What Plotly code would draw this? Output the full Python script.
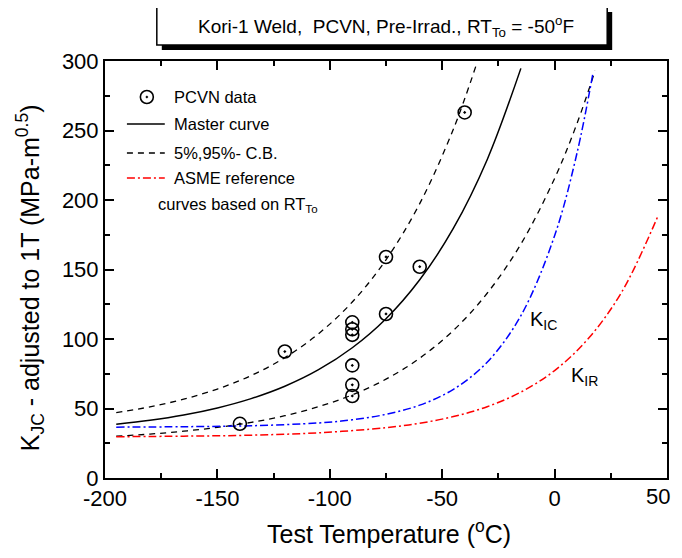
import plotly.graph_objects as go

# PCVN test data
temp_data = [-140, -120, -90, -90, -90, -90, -90, -90, -75, -75, -60, -40]
kjc_data = [39, 91, 112, 107, 103, 81, 67, 59, 159, 118, 152, 263]

# master curve and 5%/95% bounds
mc_temp = [-195, -180, -165, -150, -135, -120, -105, -90, -75, -60, -45, -30, -15]
mc_k = [38.7, 41.5, 45.3, 50.4, 57.1, 66.0, 77.9, 93.7, 114.6, 142.6, 179.7, 229.0, 294.7]

up_temp = [-195, -180, -165, -150, -135, -120, -105, -90, -75, -60, -45, -35]
up_k = [47.0, 51.2, 56.7, 64.0, 73.7, 86.6, 103.8, 126.6, 157.0, 197.4, 251.1, 296.4]

lo_temp = [-195, -180, -165, -150, -135, -120, -105, -90, -75, -60, -45, -30, -15, 0, 10, 18]
lo_k = [30.1, 31.6, 33.7, 36.4, 40.0, 44.8, 51.3, 59.8, 71.1, 86.2, 106.2, 132.9, 168.3, 215.5, 255.2, 293.0]

# ASME reference curves
kic_temp = [-195, -165, -135, -105, -90, -75, -60, -45, -30, -15, 0, 10, 17]
kic_k = [36.6, 36.9, 37.6, 39.6, 41.9, 45.8, 52.4, 63.8, 83.3, 116.8, 174.3, 234.0, 290.7]

kir_temp = [-195, -165, -135, -105, -75, -60, -45, -30, -15, 0, 15, 30, 46]
kir_k = [29.7, 30.1, 30.8, 32.5, 36.2, 39.4, 44.2, 51.3, 61.8, 77.3, 100.3, 134.2, 188.6]

x_ticks = [-200, -150, -100, -50, 0, 50]
x_labels = ['-200', '-150', '-100', '-50', '0', '50']
y_ticks = [0, 50, 100, 150, 200, 250, 300]
y_labels = ['0', '50', '100', '150', '200', '250', '300']

FONT = "Arial, Liberation Sans, sans-serif"
DASH = '6px,5px'
DASHDOT = '8px,3px,2px,3px'
TICK_SIZE = 22

fig = go.Figure()
fig.add_trace(go.Scatter(x=up_temp, y=up_k, mode='lines', line_shape='spline',
                         line=dict(color='black', width=1.3, dash=DASH)))
fig.add_trace(go.Scatter(x=lo_temp, y=lo_k, mode='lines', line_shape='spline',
                         line=dict(color='black', width=1.3, dash=DASH)))
fig.add_trace(go.Scatter(x=mc_temp, y=mc_k, mode='lines', line_shape='spline',
                         line=dict(color='black', width=1.5)))
fig.add_trace(go.Scatter(x=kic_temp, y=kic_k, mode='lines', line_shape='spline',
                         line=dict(color='blue', width=1.5, dash=DASHDOT)))
fig.add_trace(go.Scatter(x=kir_temp, y=kir_k, mode='lines', line_shape='spline',
                         line=dict(color='red', width=1.5, dash=DASHDOT)))
fig.add_trace(go.Scatter(x=temp_data, y=kjc_data, mode='markers',
                         marker=dict(symbol='circle-open-dot', size=13, color='black',
                                     line=dict(color='black', width=1.6))))

axis_style = dict(showline=True, linecolor='black', linewidth=2, mirror='allticks',
                  ticks='inside', ticklen=9, tickwidth=1.5, tickcolor='black',
                  showgrid=False, zeroline=False,
                  tickfont=dict(family=FONT, size=TICK_SIZE, color='black'),
                  minor=dict(ticks='inside', ticklen=5, tickwidth=1.5, tickcolor='black', dtick=25))

# last x label sits on the figure edge, it is drawn as an annotation below
fig.update_xaxes(range=[-200, 50], tickvals=x_ticks[:-1], ticktext=x_labels[:-1], **axis_style)
fig.update_yaxes(range=[0, 300], tickvals=y_ticks, ticktext=y_labels, **axis_style)

# the page body adds an 8px margin all round, so the figure is 16px smaller than the window
# plot area in window pixels: x 105..669, y 61..478


def px(x):
    return (x - 105) / 564


def py(y):
    return (478 - y) / 417


shapes = []
# title box with shadow
shapes.append(dict(type='rect', xref='paper', yref='paper', x0=px(162), x1=px(614), y0=py(50), y1=py(12),
                   fillcolor='black', line=dict(width=0)))
shapes.append(dict(type='rect', xref='paper', yref='paper', x0=px(157), x1=px(609), y0=py(45), y1=py(7),
                   fillcolor='white', line=dict(color='black', width=1.5)))
# legend samples
shapes.append(dict(type='circle', xref='paper', yref='paper', x0=px(140.5), x1=px(153.5), y0=py(103.5), y1=py(90.5),
                   line=dict(color='black', width=1.6)))
shapes.append(dict(type='circle', xref='paper', yref='paper', x0=px(146), x1=px(148), y0=py(98), y1=py(96),
                   fillcolor='black', line=dict(color='black', width=0.5)))
shapes.append(dict(type='line', xref='paper', yref='paper', x0=px(127), x1=px(165), y0=py(124), y1=py(124),
                   line=dict(color='black', width=1.5)))
shapes.append(dict(type='line', xref='paper', yref='paper', x0=px(127), x1=px(165), y0=py(153), y1=py(153),
                   line=dict(color='black', width=1.3, dash=DASH)))
shapes.append(dict(type='line', xref='paper', yref='paper', x0=px(127), x1=px(165), y0=py(178), y1=py(178),
                   line=dict(color='red', width=1.5, dash=DASHDOT)))

annotations = []
annotations.append(dict(xref='paper', yref='paper', x=px(387), y=py(26), showarrow=False,
                        xanchor='center', yanchor='middle',
                        text='Kori-1 Weld,  PCVN, Pre-Irrad., RT<sub>To</sub> = -50<sup>o</sup>F',
                        font=dict(family=FONT, size=19, color='black')))
leg_items = [('PCVN data', 172, 97), ('Master curve', 172, 124), ('5%,95%- C.B.', 172, 153),
             ('ASME reference', 172, 178), ('curves based on RT<sub>To</sub>', 156, 205)]
for txt, lx, ly in leg_items:
    annotations.append(dict(xref='paper', yref='paper', x=px(lx), y=py(ly), xanchor='left', yanchor='middle',
                            showarrow=False, text=txt, font=dict(family=FONT, size=16.5, color='black')))
annotations.append(dict(x=-12, y=113, xanchor='left', showarrow=False, text='K<sub>IC</sub>',
                        font=dict(family=FONT, size=20, color='black')))
annotations.append(dict(x=6.5, y=73, xanchor='left', showarrow=False, text='K<sub>IR</sub>',
                        font=dict(family=FONT, size=20, color='black')))
annotations.append(dict(xref='paper', yref='paper', x=px(674), y=py(496), showarrow=False,
                        xanchor='right', yanchor='middle', text=x_labels[-1],
                        font=dict(family=FONT, size=TICK_SIZE, color='black')))
annotations.append(dict(xref='paper', yref='paper', x=px(390), y=py(550), showarrow=False,
                        xanchor='center', yanchor='bottom',
                        text='Test Temperature (<sup>o</sup>C)',
                        font=dict(family=FONT, size=25, color='black')))
annotations.append(dict(xref='paper', yref='paper', x=px(30), y=py(278), showarrow=False, textangle=-90,
                        xanchor='center', yanchor='middle',
                        text='K<sub>JC</sub> - adjusted to 1T (MPa-m<sup>0.5</sup>)',
                        font=dict(family=FONT, size=25, color='black')))

fig.update_layout(width=666, height=542, margin=dict(l=97, r=5, t=53, b=72),
                  paper_bgcolor='white', plot_bgcolor='white', showlegend=False,
                  shapes=shapes, annotations=annotations, font=dict(family=FONT))

fig.write_html("out.html")
